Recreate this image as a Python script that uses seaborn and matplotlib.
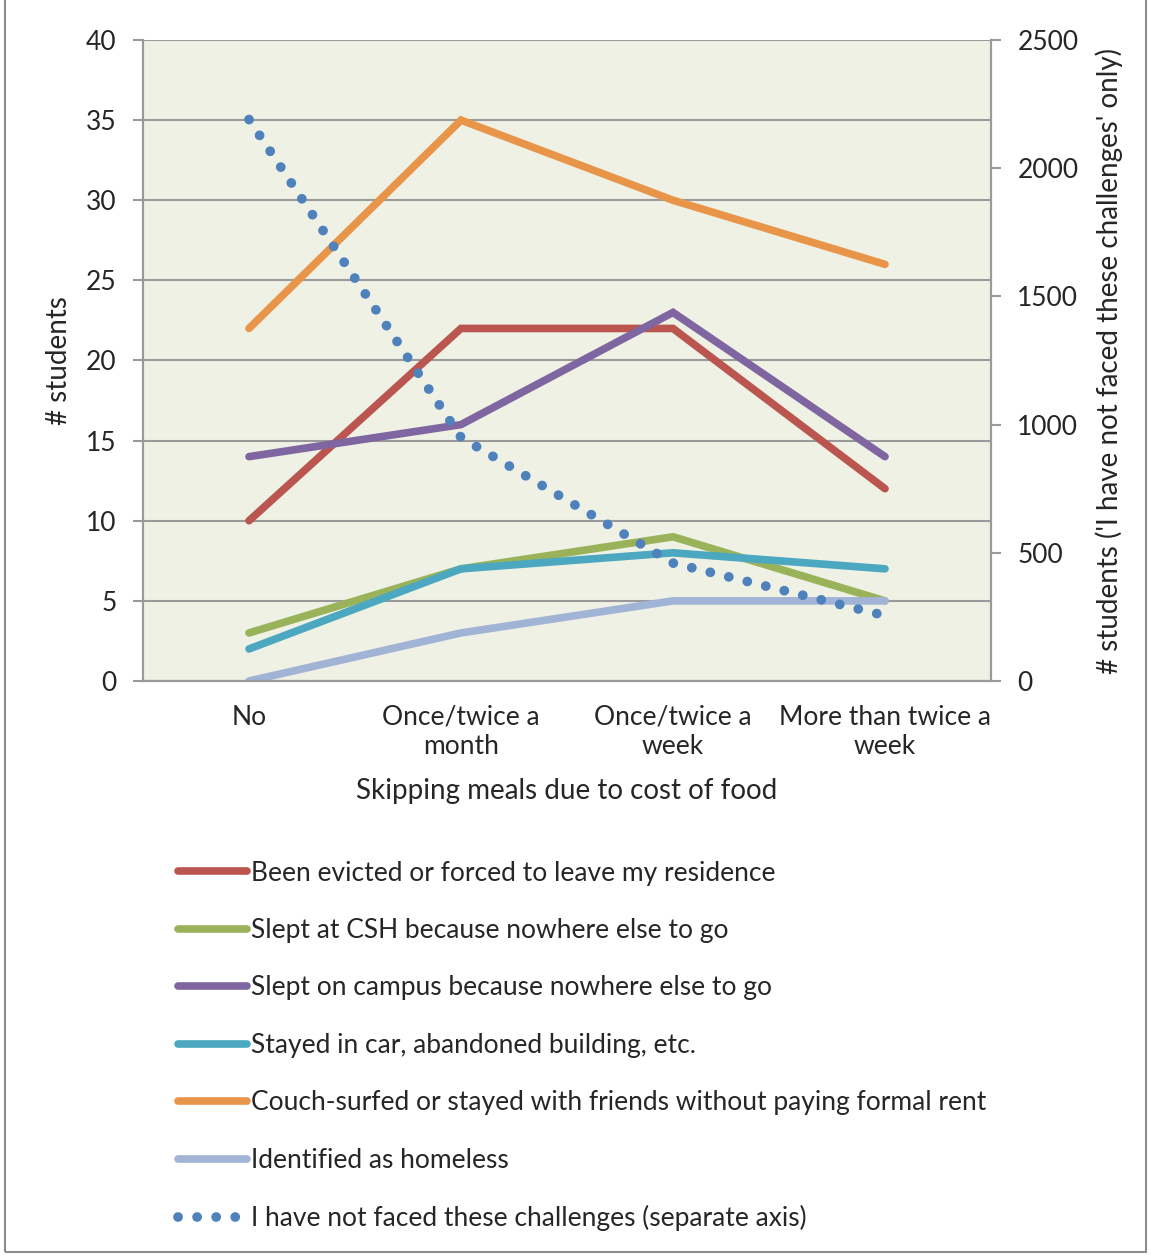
import numpy as np
import pandas as pd
import matplotlib
matplotlib.use("Agg")
import matplotlib.pyplot as plt
import matplotlib.ticker as mticker
from matplotlib.lines import Line2D
from matplotlib.patches import Rectangle
import seaborn as sns

# Data
categories = ["No", "Once/twice a\nmonth", "Once/twice a\nweek", "More than twice a\nweek"]
series_names = [
    "Been evicted or forced to leave my residence",
    "Slept at CSH because nowhere else to go",
    "Slept on campus because nowhere else to go",
    "Stayed in car, abandoned building, etc.",
    "Couch-surfed or stayed with friends without paying formal rent",
    "Identified as homeless",
]
evicted = [10, 22, 22, 12]
slept_csh = [3, 7, 9, 5]
slept_campus = [14, 16, 23, 14]
stayed_car = [2, 7, 8, 7]
couch_surfed = [22, 35, 30, 26]
homeless = [0, 3, 5, 5]
not_faced_name = "I have not faced these challenges (separate axis)"
not_faced = [2190, 950, 460, 255]

colors = ["#BA5550", "#9AB35B", "#8066A0", "#4BA8C0", "#E8954A", "#A2B4D6"]
dot_color = "#4F81BD"

sns.set_theme(style="white")
plt.rcParams["font.family"] = ["Lato", "DejaVu Sans"]

df = pd.DataFrame({
    "category": np.tile(categories, len(series_names)),
    "series": np.repeat(series_names, len(categories)),
    "value": evicted + slept_csh + slept_campus + stayed_car + couch_surfed + homeless,
})
df_nf = pd.DataFrame({"category": categories, "value": not_faced})

fig = plt.figure(figsize=(11.51, 12.55), dpi=100)
ax = fig.add_axes([143 / 1151, 1 - 681 / 1255, (991 - 143) / 1151, (681 - 40) / 1255])
ax.set_facecolor("#EEF1E4")

sns.lineplot(data=df, x="category", y="value", hue="series", palette=colors,
             linewidth=5.5, ax=ax, legend=False, sort=False)
for ln in ax.lines:
    ln.set_solid_capstyle("round")
    ln.set_solid_joinstyle("miter")

dots = (0, (0.01, 1.95))
ax2 = ax.twinx()
sns.lineplot(data=df_nf, x="category", y="value", color=dot_color, linewidth=7,
             ax=ax2, legend=False, sort=False)
for ln in ax2.lines:
    ln.set_linestyle(dots)
    ln.set_dash_capstyle("round")

grid_c = "#9A9A9A"
fs = 19
ax.set_xlim(-0.5, 3.5)
ax.set_ylim(0, 40)
ax.set_yticks(np.arange(0, 41, 5))
ax2.set_ylim(0, 2500)
ax2.set_yticks(np.arange(0, 2501, 500))
ax.yaxis.grid(True, color=grid_c, linewidth=1.5)
ax.set_axisbelow(True)

ax.set_xticks(range(len(categories)))
ax.set_xticklabels(categories, fontsize=fs, linespacing=1.2)
ax.xaxis.set_minor_locator(mticker.FixedLocator(np.arange(-0.5, 3.6, 1)))
ax.tick_params(axis="x", which="major", length=0, pad=17)
ax.tick_params(axis="x", which="minor", length=7, width=1.5, color=grid_c, direction="out")
ax.tick_params(axis="y", length=7, width=1.5, color=grid_c, direction="out", labelsize=fs, pad=12)
ax2.tick_params(axis="y", length=7, width=1.5, color=grid_c, direction="out", labelsize=fs, pad=12)

for a in (ax, ax2):
    for s in a.spines.values():
        s.set_color(grid_c)
        s.set_linewidth(1.5)
    a.spines["top"].set_visible(False)

ax.set_xlabel("Skipping meals due to cost of food", fontsize=20, labelpad=14)
ax.set_ylabel("# students", fontsize=20, labelpad=10)
ax2.set_ylabel("# students ('I have not faced these challenges' only)", fontsize=20, labelpad=12)

# legend for both axes, below the plot
handles = [Line2D([0], [0], color=c, linewidth=5.5, solid_capstyle="round") for c in colors]
handles.append(Line2D([0], [0], color=dot_color, linewidth=7,
                      linestyle=dots, dash_capstyle="round"))
fig.legend(handles, series_names + [not_faced_name], loc="upper left",
           bbox_to_anchor=(167 / 1151, 1 - 850 / 1255), frameon=False,
           fontsize=fs, handlelength=2.65, handletextpad=0.12, labelspacing=1.23,
           borderaxespad=0)

fig.patches.append(Rectangle((0.004, 0.002), 0.992, 1.2, transform=fig.transFigure,
                             fill=False, edgecolor="#8C8C8C", linewidth=1.5))

fig.savefig("out.png", dpi=100, facecolor="white")
